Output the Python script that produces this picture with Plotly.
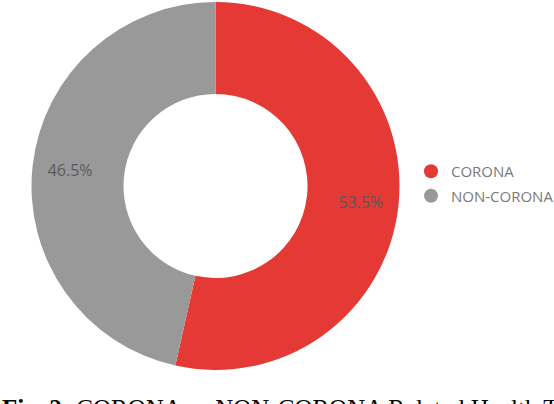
import plotly.graph_objects as go

categories = ["CORONA", "NON-CORONA"]
values = [53.5, 46.5]
colors = ["#E53935", "#999999"]
caption_bold = "Fig. 2:"
caption_text = "CORONA vs NON-CORONA Related Health Tweets"

W, H = 554, 404
pie_domain = dict(x=[31.5 / W, 399.5 / W], y=[1 - 370 / H, 1 - 2 / H])

fig = go.Figure()
# coloured ring
fig.add_trace(go.Pie(
    labels=categories,
    values=values,
    hole=0.5,
    sort=False,
    direction="clockwise",
    rotation=0,
    marker=dict(colors=colors, line=dict(width=0)),
    textinfo="none",
    showlegend=False,
    domain=pie_domain,
    hoverinfo="label+percent",
))
# percentage labels (transparent ring, placed slightly further out)
fig.add_trace(go.Pie(
    labels=categories,
    values=values,
    hole=0.59,
    sort=False,
    direction="clockwise",
    rotation=0,
    marker=dict(colors=["rgba(0,0,0,0)"] * len(values), line=dict(width=0)),
    textinfo="percent",
    texttemplate="%{percent:.1%}",
    textposition="inside",
    insidetextorientation="horizontal",
    textfont=dict(family="Open Sans", size=16, color="#5a5a5a"),
    showlegend=False,
    domain=pie_domain,
    hoverinfo="skip",
))

for i, (name, col) in enumerate(zip(categories, colors)):
    fig.add_trace(go.Scatter(
        x=[None], y=[None], mode="markers", name=name,
        marker=dict(symbol="circle", size=14, color=col),
        legendgroup=f"g{i}", showlegend=True,
    ))

fig.add_annotation(
    x=0, xref="paper", xanchor="left",
    y=1 - 392.5 / H, yref="paper", yanchor="top",
    text=f"<b>{caption_bold}</b> {caption_text}",
    showarrow=False,
    font=dict(family="Liberation Serif", size=25, color="black"),
)

fig.update_layout(
    width=W, height=H,
    margin=dict(l=0, r=0, t=0, b=0, autoexpand=False),
    paper_bgcolor="white", plot_bgcolor="white",
    xaxis=dict(visible=False), yaxis=dict(visible=False),
    legend=dict(
        x=411 / W, y=1 - 155 / H, xanchor="left", yanchor="top",
        font=dict(family="Open Sans", size=15, color="#7a7a7a"),
        traceorder="grouped", tracegroupgap=2,
        bgcolor="rgba(0,0,0,0)", itemsizing="trace",
    ),
)

fig.write_html("out.html", config={"displayModeBar": False},
               post_script="document.body.style.margin='0';")
